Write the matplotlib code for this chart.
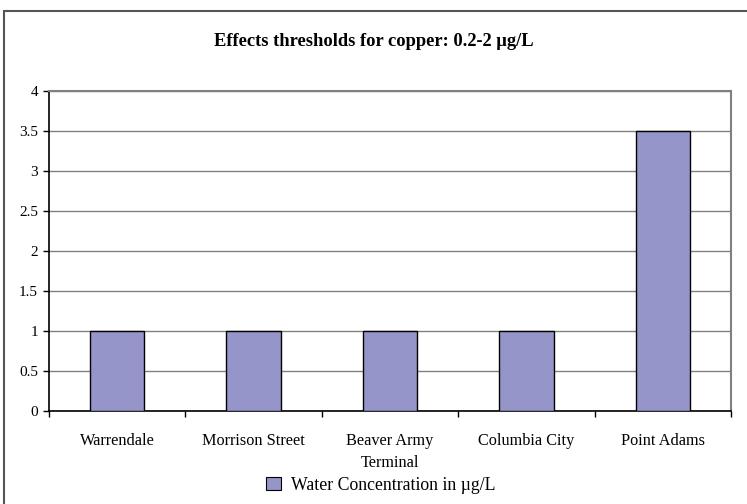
import matplotlib.pyplot as plt
from matplotlib.patches import Rectangle, Patch
import numpy as np

# data
sites = ['Warrendale', 'Morrison Street', 'Beaver Army\nTerminal', 'Columbia City', 'Point Adams']
water_conc = [1, 1, 1, 1, 3.5]
y_ticks = [0, 0.5, 1, 1.5, 2, 2.5, 3, 3.5, 4]
y_tick_labels = ['0', '0.5', '1', '1.5', '2', '2.5', '3', '3.5', '4']

bar_color = '#9595C9'
plt.rcParams['font.family'] = ['Liberation Serif', 'DejaVu Serif']

fig = plt.figure(figsize=(7.47, 5.04), dpi=100)
ax = fig.add_axes([49/747, 1 - 411/504, (731 - 49)/747, (411 - 91)/504])

x = np.arange(len(sites))
ax.bar(x, water_conc, width=0.4, color=bar_color, edgecolor='black', linewidth=1.0, zorder=3)

ax.set_xlim(-0.5, len(sites) - 0.5)
ax.set_ylim(0, 4)
ax.set_yticks(y_ticks)
ax.set_yticklabels(y_tick_labels)
ax.yaxis.grid(True, color='#808080', linewidth=1.0, zorder=0)

# category labels centered, tick marks at the boundaries
ax.set_xticks(x)
ax.set_xticklabels(sites, fontsize=11.7, linespacing=1.45)
ax.set_xticks(np.arange(-0.5, len(sites)), minor=True)
ax.tick_params(axis='x', which='major', length=0, pad=16)
ax.tick_params(axis='x', which='minor', length=4, width=1.0, direction='out', color='black')
ax.tick_params(axis='y', length=4, width=1.0, direction='out', pad=4, labelsize=11)

for side in ['left', 'bottom']:
    ax.spines[side].set_color('black')
    ax.spines[side].set_linewidth(1.2)
for side in ['top', 'right']:
    ax.spines[side].set_color('#808080')
    ax.spines[side].set_linewidth(1.5)

fig.text(374/747, 1 - 42/504, 'Effects thresholds for copper: 0.2-2 µg/L',
         ha='center', va='center', fontsize=13.3, fontweight='bold')

fig.legend(handles=[Patch(facecolor=bar_color, edgecolor='black', linewidth=0.8)],
           labels=['Water Concentration in µg/L'], loc='center',
           bbox_to_anchor=(381/747, 1 - 485/504), frameon=False, fontsize=12.8,
           handlelength=0.8, handleheight=0.8, handletextpad=0.6, borderpad=0)

# outer chart border, cut off on the right and bottom
fig.add_artist(Rectangle((4/747, -0.1), 1.2, 1.1 - 11/504, transform=fig.transFigure,
                         fill=False, edgecolor='#555555', linewidth=1.5))

fig.savefig('out.png', dpi=100)
plt.close('all')
